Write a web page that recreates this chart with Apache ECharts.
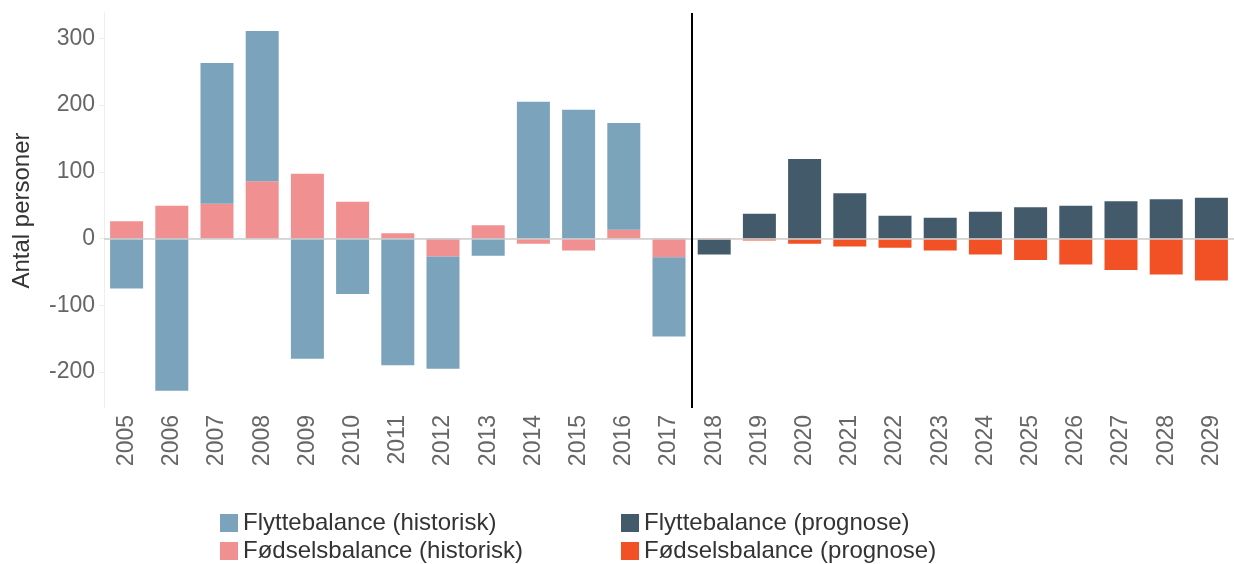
<!DOCTYPE html>
<html>
<head>
<meta charset="utf-8">
<script src="https://cdn.jsdelivr.net/npm/echarts@6/dist/echarts.min.js"></script>
<style>
  html, body { margin: 0; padding: 0; background: #fff; }
  #chart { width: 1234px; height: 564px; }
</style>
</head>
<body>
<div id="chart"></div>
<script>
const years = ['2005', '2006', '2007', '2008', '2009', '2010', '2011', '2012', '2013', '2014', '2015', '2016', '2017',
  '2018', '2019', '2020', '2021', '2022', '2023', '2024', '2025', '2026', '2027', '2028', '2029']

// historisk 2005-2017, prognose 2018-2029 (null = ingen værdi)
const flytteHist = [-75, -228, 211, 225, -180, -83, -190, -168, -26, 205, 193, 160, -119,
  null, null, null, null, null, null, null, null, null, null, null, null]
const foedselHist = [26, 49, 52, 86, 97, 55, 8, -27, 20, -8, -18, 13, -28,
  null, null, null, null, null, null, null, null, null, null, null, null]
const flytteProg = [null, null, null, null, null, null, null, null, null, null, null, null, null,
  -23, 37, 119, 68, 34, 31, 40, 47, 49, 56, 59, 61]
const foedselProg = [null, null, null, null, null, null, null, null, null, null, null, null, null,
  -1, -3, -8, -12, -14, -18, -24, -32, -39, -47, -54, -63]

// skillelinje mellem historisk og prognose (antal historiske år)
const splitAt = 13

const font = 'Liberation Sans, Arial, sans-serif'

const chart = echarts.init(document.getElementById('chart'))

const bar = (name, data, color) => ({
  name: name,
  type: 'bar',
  stack: 'total',
  data: data,
  barCategoryGap: '27%',
  itemStyle: { color: color },
  emphasis: { disabled: true }
})

const series = [
  bar('Fødselsbalance (historisk)', foedselHist, '#f09090'),
  bar('Flyttebalance (historisk)', flytteHist, '#7ba3bc'),
  bar('Fødselsbalance (prognose)', foedselProg, '#f15125'),
  bar('Flyttebalance (prognose)', flytteProg, '#435a6a')
]
series[0].markLine = {
  silent: true,
  symbol: 'none',
  label: { show: false },
  lineStyle: { color: '#cccccc', width: 1.5, type: 'solid' },
  data: [{ yAxis: 0 }]
}
// tom serie på en skjult værdiakse, kun til den lodrette skillelinje
series.push({
  name: 'skille',
  type: 'line',
  xAxisIndex: 1,
  data: [],
  markLine: {
    silent: true,
    symbol: 'none',
    label: { show: false },
    lineStyle: { color: '#000', width: 2, type: 'solid' },
    data: [{ xAxis: splitAt }]
  }
})

const legendBase = {
  orient: 'vertical', top: 506, height: 60,
  itemWidth: 18, itemHeight: 18, itemGap: 4,
  icon: 'rect',
  textStyle: { fontSize: 24, lineHeight: 24, color: '#333', fontFamily: font }
}

const option = {
  animation: false,
  textStyle: { fontFamily: font },
  grid: { left: 104, width: 1133, top: 13, bottom: 156, containLabel: false },
  legend: [
    Object.assign({}, legendBase, {
      left: 215,
      data: ['Flyttebalance (historisk)', 'Fødselsbalance (historisk)']
    }),
    Object.assign({}, legendBase, {
      left: 616,
      data: ['Flyttebalance (prognose)', 'Fødselsbalance (prognose)']
    })
  ],
  xAxis: [
    {
      type: 'category',
      data: years,
      axisLine: { lineStyle: { color: '#eeeeee' } },
      axisTick: { length: 7, lineStyle: { color: '#eeeeee' } },
      axisLabel: { rotate: 90, interval: 0, fontSize: 23, color: '#666', margin: 7, fontFamily: font },
      splitLine: { show: false }
    },
    {
      type: 'value',
      min: 0,
      max: years.length,
      show: false
    }
  ],
  yAxis: {
    type: 'value',
    min: -254,
    max: 338,
    splitNumber: 6,
    name: 'Antal personer',
    nameLocation: 'middle',
    nameGap: 70,
    nameTextStyle: { fontSize: 24, color: '#333', fontFamily: font },
    axisLine: { show: true, lineStyle: { color: '#eeeeee' } },
    axisTick: { show: true, length: 5, lineStyle: { color: '#eeeeee' } },
    axisLabel: { fontSize: 23, color: '#666', margin: 9, showMinLabel: false, showMaxLabel: false, fontFamily: font },
    splitLine: { show: false }
  },
  series: series
}

chart.setOption(option)
</script>
</body>
</html>
